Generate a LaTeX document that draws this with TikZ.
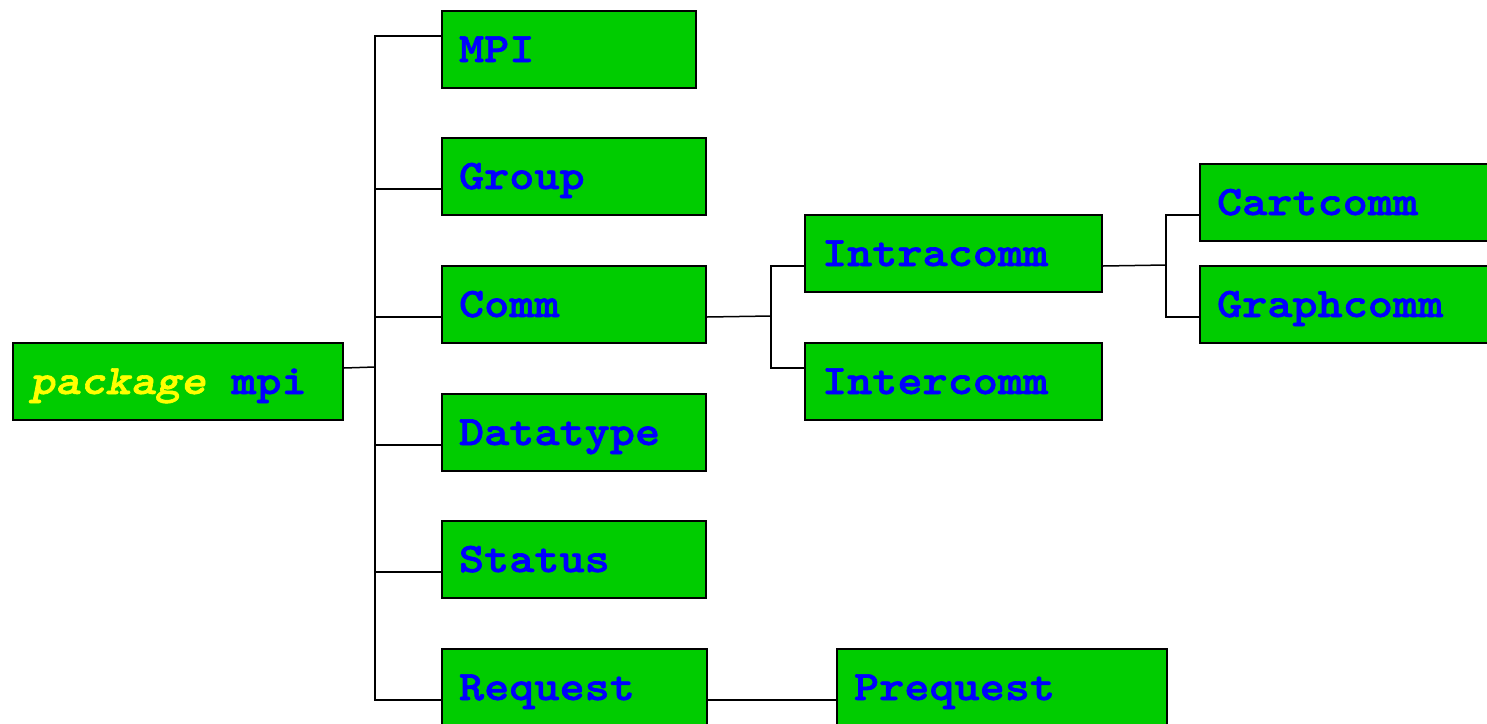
\documentclass[tikz,border=0pt]{standalone}
\usepackage{fontspec}
% slab-serif typewriter face, widened and thickened for a Courier-like look
\newfontfamily\codefont{lmmonolt10-bold.otf}[FakeStretch=1.14, FakeBold=1.5, ItalicFont=lmmonolt10-boldoblique.otf]
\definecolor{boxgreen}{RGB}{0,204,0}
\definecolor{textblue}{RGB}{0,0,255}
\definecolor{kwyellow}{RGB}{255,255,0}
\newcommand{\cellgap}{\hspace*{25.3pt}}
\tikzset{
  cls/.style={draw=black, line width=2pt, fill=boxgreen, anchor=north west,
    inner xsep=17pt, inner ysep=0pt, minimum height=77pt,
    text height=25pt, text depth=0pt, align=left,
    font=\codefont\fontsize{42}{48}\selectfont, text=textblue},
  link/.style={draw=black, line width=1.5pt},
  lo/.style={yshift=-12.5pt},
  hi/.style={yshift=13.5pt}
}
\begin{document}
\begin{tikzpicture}[x=1pt,y=-1pt]
  \useasboundingbox (0,0) rectangle (1487,723);
  \clip (0,0) rectangle (1487,723);

  % class boxes
  \node[cls, text width=296pt] (pkg) at (12,342) {\textcolor{kwyellow}{\itshape package}\cellgap mpi};
  \node[cls, text width=220pt] (mpi) at (441,10) {MPI};
  \node[cls, text width=230pt] (grp) at (441,137) {Group};
  \node[cls, text width=230pt] (comm) at (441,265) {Comm};
  \node[cls, text width=230pt] (dtype) at (441,393) {Datatype};
  \node[cls, text width=230pt] (stat) at (441,520) {Status};
  \node[cls, text width=231pt] (req) at (441,648) {Request};
  \node[cls, text width=263pt] (intra) at (804,214) {Intracomm};
  \node[cls, text width=263pt] (inter) at (804,342) {Intercomm};
  \node[cls, text width=296pt] (cart) at (1199,163) {Cartcomm};
  \node[cls, text width=296pt] (graph) at (1199,265) {Graphcomm};
  \node[cls, text width=296pt] (preq) at (836,648) {Prequest};

  % junction points of the tree
  \coordinate (trunk) at (375,367);
  \coordinate (cj) at (771,316);
  \coordinate (ij) at (1166,265);

  % package -> top-level classes
  \draw[link] ([hi]pkg.east) -- (trunk);
  \draw[link] (trunk) |- ([hi]mpi.west);
  \draw[link] (trunk) |- ([lo]grp.west);
  \draw[link] (trunk) |- ([lo]comm.west);
  \draw[link] (trunk) |- ([lo]dtype.west);
  \draw[link] (trunk) |- ([lo]stat.west);
  \draw[link] (trunk) |- ([lo]req.west);

  % Comm -> Intracomm, Intercomm
  \draw[link] ([lo]comm.east) -- (cj);
  \draw[link] (cj) |- ([lo]intra.west);
  \draw[link] (cj) |- ([hi]inter.west);

  % Intracomm -> Cartcomm, Graphcomm
  \draw[link] ([lo]intra.east) -- (ij);
  \draw[link] (ij) |- ([lo]cart.west);
  \draw[link] (ij) |- ([lo]graph.west);

  % Request -> Prequest
  \draw[link] ([lo]req.east) -- ([lo]preq.west);
\end{tikzpicture}
\end{document}
